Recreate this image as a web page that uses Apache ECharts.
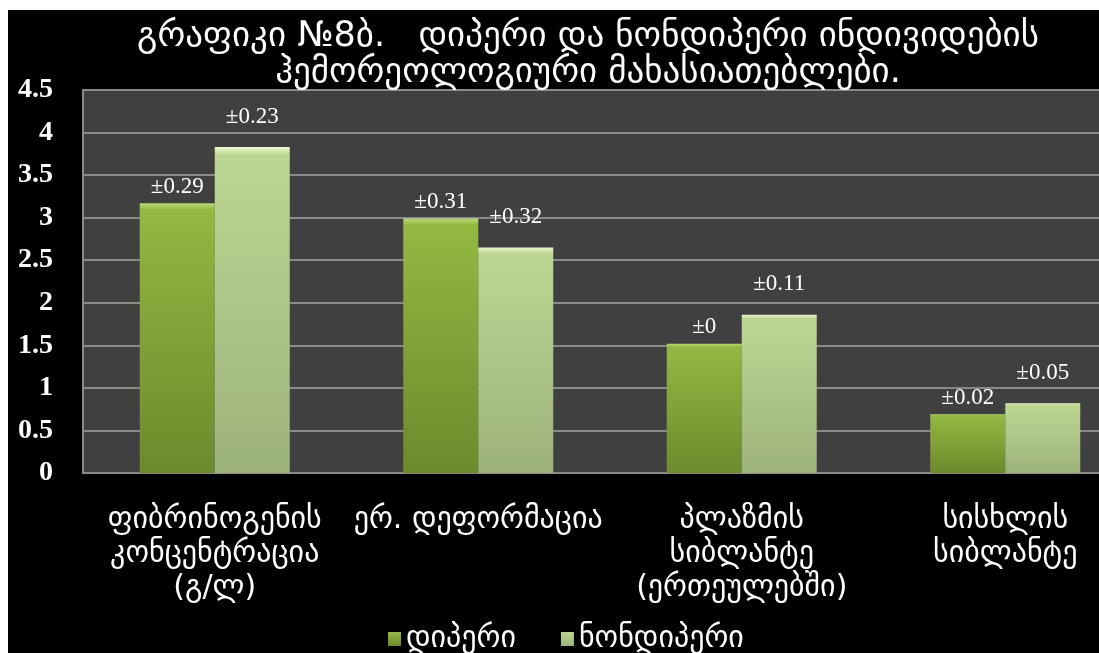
<!DOCTYPE html>
<html>
<head>
<meta charset="utf-8">
<script src="https://cdn.jsdelivr.net/npm/echarts@6/dist/echarts.min.js"></script>
<style>
  html, body { margin: 0; padding: 0; background: #ffffff; width: 1099px; height: 653px; overflow: hidden; position: relative; }
  /* the plot runs past the right edge of the window, so the chart box is wider than the page */
  #chart { position: absolute; left: 8px; top: 10px; width: 1129px; height: 643px; background: #000000; }
</style>
</head>
<body>
<div id="chart"></div>
<script>
// Hemorheological parameters of dippers and non-dippers
const categories = [
  'ფიბრინოგენის\nკონცენტრაცია\n(გ/ლ)',
  'ერ. დეფორმაცია',
  'პლაზმის\nსიბლანტე\n(ერთეულებში)',
  'სისხლის\nსიბლანტე'
];
const seriesNames = ['დიპერი', 'ნონდიპერი'];
const dipperValues = [3.17, 2.99, 1.52, 0.69];
const nonDipperValues = [3.83, 2.65, 1.86, 0.82];
const dipperSD = [0.29, 0.31, 0, 0.02];
const nonDipperSD = [0.23, 0.32, 0.11, 0.05];

const titleLines = [
  'გრაფიკი №8ბ.   დიპერი და ნონდიპერი ინდივიდების',
  'ჰემორეოლოგიური მახასიათებლები.'
];

const georgianFont = "'DejaVu Sans', sans-serif";
const serifFont = "'Liberation Serif', 'DejaVu Serif', serif";

function barFill(bevel, top, bottom) {
  return new echarts.graphic.LinearGradient(0, 0, 0, 1, [
    { offset: 0, color: bevel },
    { offset: 0.025, color: top },
    { offset: 1, color: bottom }
  ]);
}

const chart = echarts.init(document.getElementById('chart'), null, { renderer: 'canvas' });

chart.setOption({
  backgroundColor: '#000000',
  animation: false,
  title: {
    text: titleLines.join('\n'),
    left: 575,
    top: 4,
    textAlign: 'center',
    textStyle: {
      color: '#ffffff',
      fontFamily: georgianFont,
      fontSize: 35,
      fontWeight: 'normal',
      lineHeight: 36
    }
  },
  legend: {
    data: seriesNames,
    left: 375,
    top: 609,
    icon: 'rect',
    itemWidth: 13,
    itemHeight: 14,
    itemGap: 45,
    textStyle: { color: '#ffffff', fontFamily: georgianFont, fontSize: 30 }
  },
  grid: {
    left: 75,
    top: 80,
    right: 0,
    bottom: 180,
    show: true,
    backgroundColor: '#404040',
    borderWidth: 0
  },
  xAxis: {
    type: 'category',
    data: categories,
    axisTick: { show: false },
    axisLine: { show: true, lineStyle: { color: '#8a8a8a', width: 2 } },
    axisLabel: {
      color: '#ffffff',
      fontFamily: georgianFont,
      fontSize: 30,
      lineHeight: 34,
      margin: 30,
      interval: 0
    }
  },
  yAxis: {
    type: 'value',
    min: 0,
    max: 4.5,
    interval: 0.5,
    axisLine: { show: true, lineStyle: { color: '#8a8a8a', width: 2 } },
    axisTick: { show: false },
    splitLine: { show: true, lineStyle: { color: '#8a8a8a', width: 2 } },
    axisLabel: {
      color: '#ffffff',
      fontFamily: serifFont,
      fontWeight: 'bold',
      fontSize: 28,
      margin: 30
    }
  },
  series: [
    {
      name: seriesNames[0],
      type: 'bar',
      data: dipperValues,
      barWidth: 75,
      barGap: '0%',
      itemStyle: { color: barFill('#b9d978', '#93b842', '#6c8a2c') },
      label: {
        show: true,
        position: 'top',
        distance: 5,
        color: '#ffffff',
        fontFamily: serifFont,
        fontSize: 23,
        formatter: p => '±' + dipperSD[p.dataIndex]
      }
    },
    {
      name: seriesNames[1],
      type: 'bar',
      data: nonDipperValues,
      barWidth: 75,
      barGap: '0%',
      itemStyle: { color: barFill('#eaf5cf', '#bcd692', '#9db27c') },
      label: {
        show: true,
        position: 'top',
        distance: 19,
        color: '#ffffff',
        fontFamily: serifFont,
        fontSize: 23,
        formatter: p => '±' + nonDipperSD[p.dataIndex]
      }
    }
  ]
});
</script>
</body>
</html>
